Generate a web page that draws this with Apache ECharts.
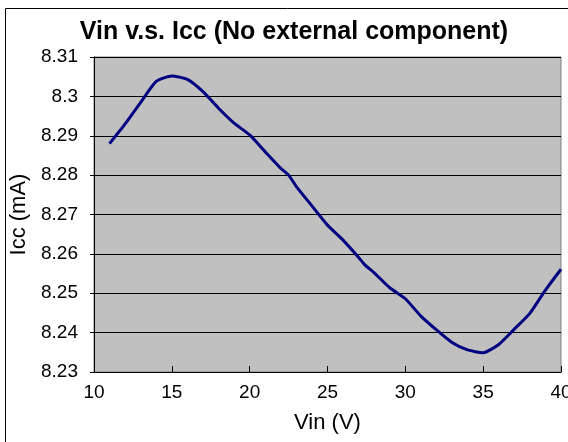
<!DOCTYPE html>
<html>
<head>
<meta charset="utf-8">
<script src="https://cdn.jsdelivr.net/npm/echarts@6/dist/echarts.min.js"></script>
<style>html,body{margin:0;padding:0;background:#fff;}#c{width:568px;height:442px;}</style>
</head>
<body>
<div id="c"></div>
<script>
const vin = [11,12,13,14,15,16,17,18,19,20,21,22,22.5,23,24,25,26,27,27.4,28,29,30,31,32,33,34,35,36,37,38,39,40];
const icc = [8.2880,8.2930,8.2985,8.3038,8.3052,8.3043,8.3012,8.2970,8.2932,8.2902,8.2859,8.2817,8.2800,8.2771,8.2722,8.2673,8.2635,8.2591,8.2572,8.2552,8.2514,8.2486,8.2442,8.2407,8.2375,8.2356,8.2349,8.2370,8.2409,8.2449,8.2508,8.2561];
const xTicks = [10,15,20,25,30,35,40];
const yTicks = [8.23,8.24,8.25,8.26,8.27,8.28,8.29,8.30,8.31];
const titleText = 'Vin v.s. Icc (No external component)';
const xName = 'Vin (V)';
const yName = 'Icc (mA)';

const font = 'Arial, "Liberation Sans", sans-serif';
const chart = echarts.init(document.getElementById('c'), null, {renderer:'canvas'});
chart.setOption({
  animation: false,
  backgroundColor: '#fff',
  title: {
    text: titleText, left: 289, top: 15, textAlign: 'center',
    textStyle: {fontFamily: font, fontWeight: 'bold', fontSize: 25, color: '#000'}
  },
  graphic: [{
    type: 'rect', silent: true, z: -1,
    shape: {x: 5.5, y: 8.5, width: 700, height: 600},
    style: {fill: null, stroke: '#000', lineWidth: 1}
  }],
  grid: {
    left: 94, top: 57, width: 467, height: 315,
    outerBoundsMode: 'none', containLabel: false,
    show: true, backgroundColor: '#c0c0c0', borderColor: '#808080', borderWidth: 1
  },
  xAxis: {
    type: 'value', min: xTicks[0], max: xTicks[xTicks.length-1], interval: 5,
    name: xName, nameLocation: 'middle', nameGap: 40,
    nameTextStyle: {fontFamily: font, fontSize: 22, color: '#000'},
    axisLine: {show: true, lineStyle: {color: '#000', width: 1}},
    axisTick: {show: true, inside: true, length: 6, lineStyle: {color: '#000'}},
    axisLabel: {fontFamily: font, fontSize: 19, color: '#000', margin: 11},
    splitLine: {show: false}
  },
  yAxis: {
    type: 'value', min: yTicks[0], max: yTicks[yTicks.length-1], interval: 0.01,
    name: yName, nameLocation: 'middle', nameGap: 52, nameRotate: 90,
    nameTextStyle: {fontFamily: font, fontSize: 22, color: '#000'},
    axisLine: {show: true, lineStyle: {color: '#000', width: 1}},
    axisTick: {show: true, inside: false, length: 4, lineStyle: {color: '#000'}},
    axisLabel: {fontFamily: font, fontSize: 19, color: '#000', margin: 16,
      formatter: v => String(Math.round(v*100)/100)},
    splitLine: {show: true, lineStyle: {color: '#000', width: 1}}
  },
  series: [{
    type: 'line', data: vin.map((v,i)=>[v, icc[i]]),
    showSymbol: false, smooth: 0.2,
    lineStyle: {color: '#000080', width: 3},
    clip: false
  }]
});
</script>
</body>
</html>
